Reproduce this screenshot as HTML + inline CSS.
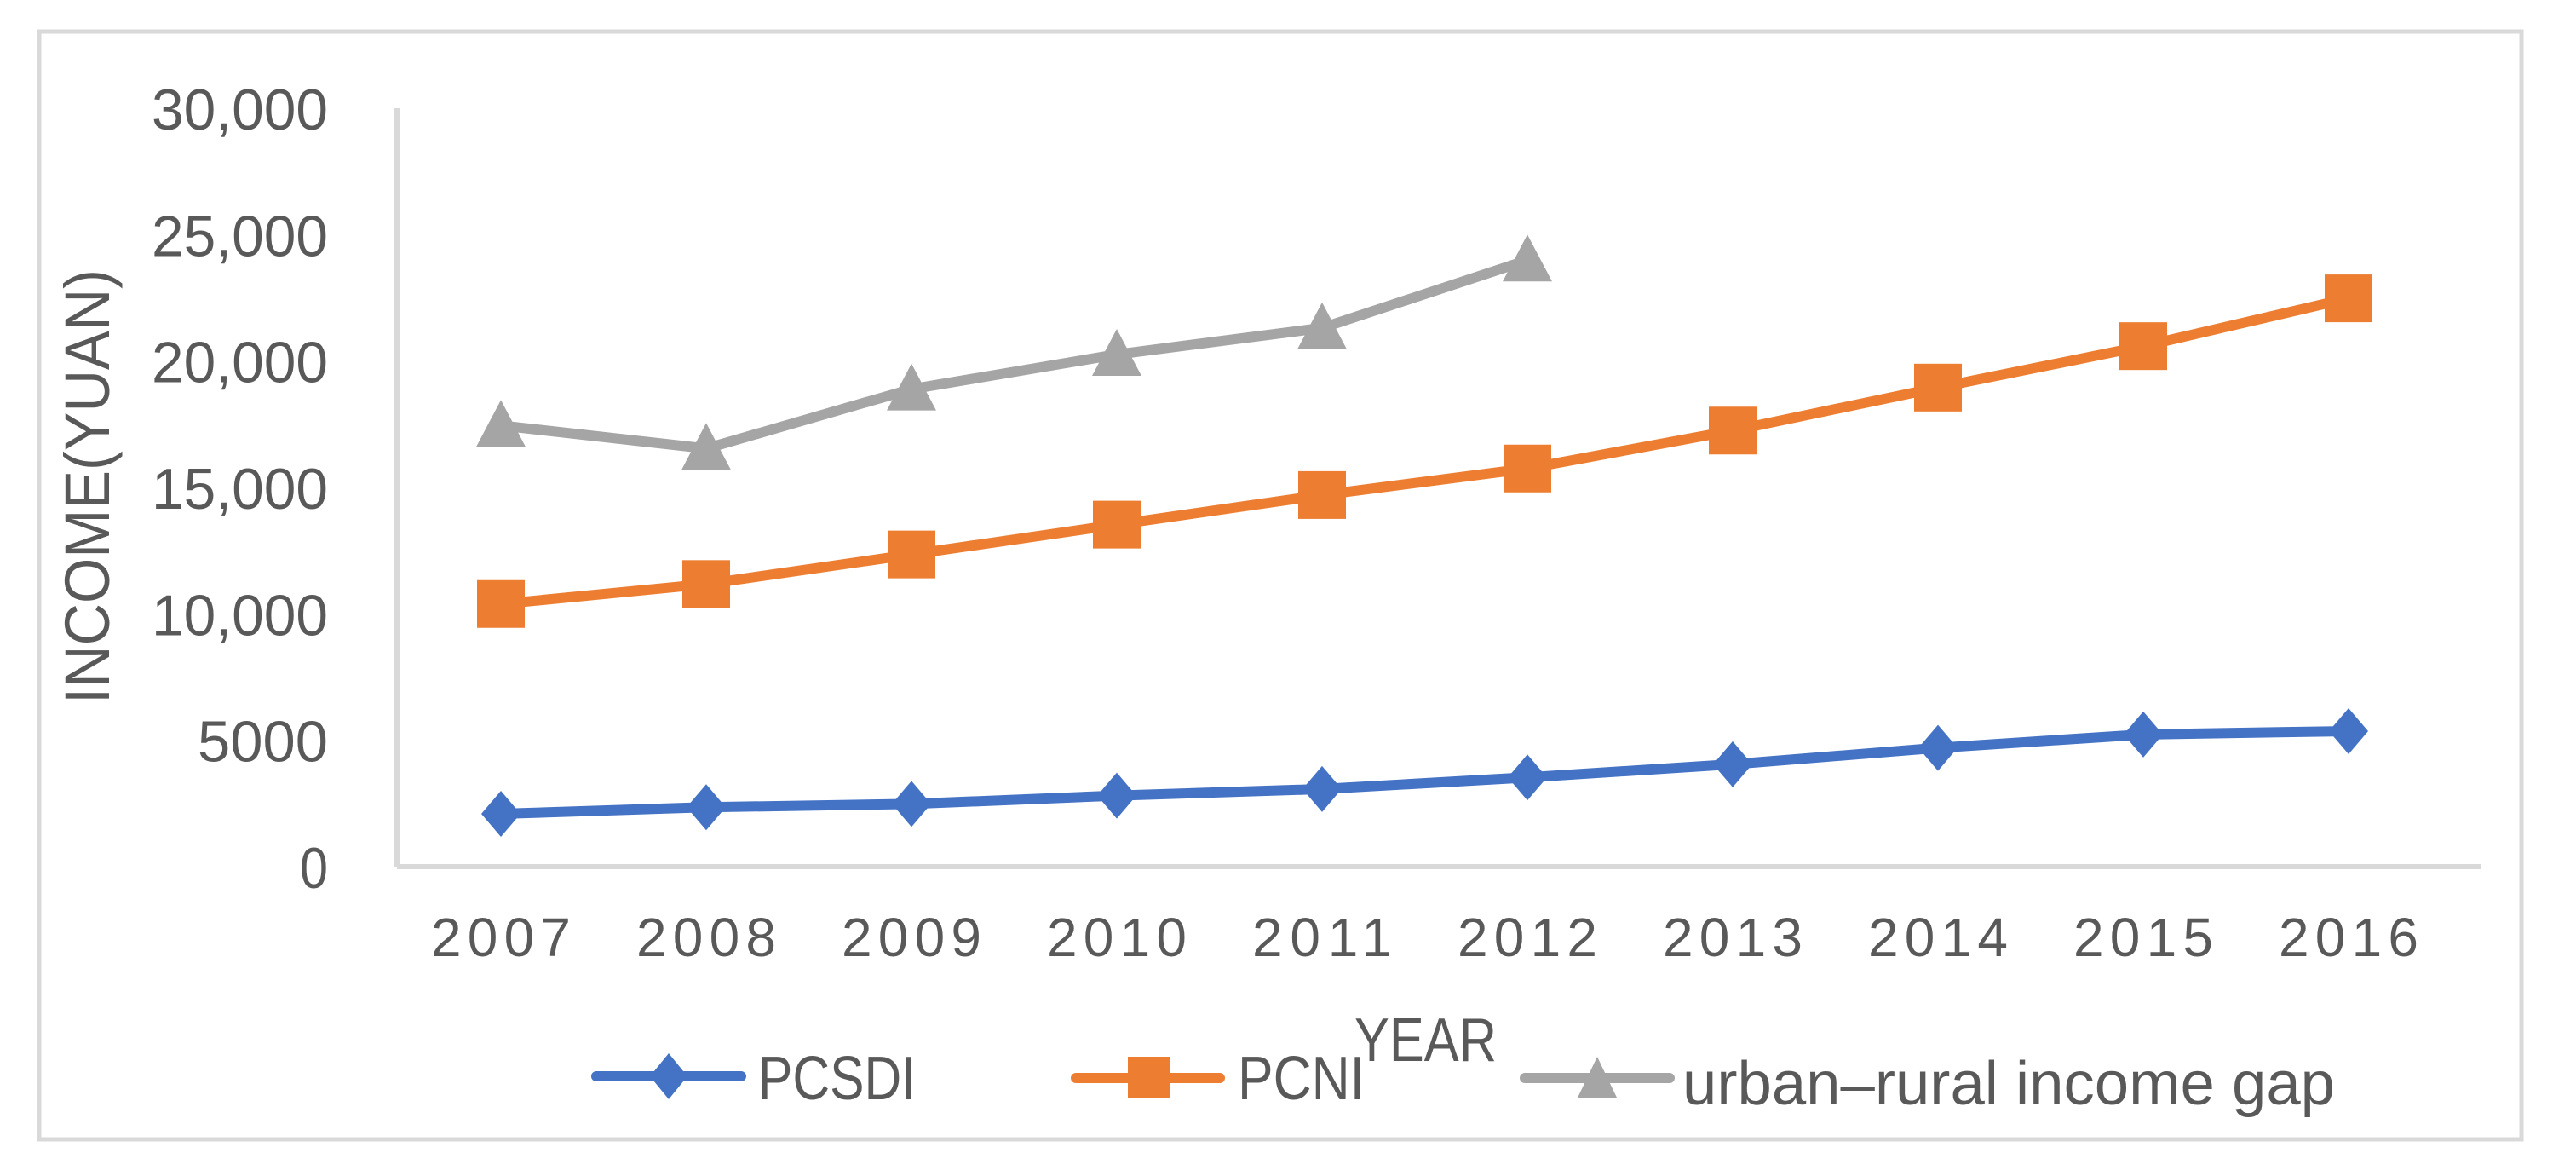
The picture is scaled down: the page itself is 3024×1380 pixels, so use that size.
<!DOCTYPE html>
<html><head><meta charset="utf-8"><style>
html,body{margin:0;padding:0;background:#fff;}
svg{display:block;}
text{font-family:"Liberation Sans","Noto Sans CJK SC",sans-serif;fill:#595959;}
</style></head><body>
<svg id="chart" width="3024" height="1380" viewBox="0 0 3024 1380" xmlns="http://www.w3.org/2000/svg">
<rect x="46" y="37" width="2914" height="1300" fill="#fff" stroke="#d9d9d9" stroke-width="5"/>
<g id="grid"></g>
<g id="axes"></g>
<g id="series"></g>
<text transform="translate(128,571) rotate(-90)" text-anchor="middle" font-size="74" textLength="510" lengthAdjust="spacingAndGlyphs">INCOME(YUAN)</text>
<text x="1590" y="1245" font-size="72" textLength="167" lengthAdjust="spacingAndGlyphs">YEAR</text>
<g>
  <g>
    <line x1="700" y1="1263" x2="870" y2="1263" stroke="#4472C4" stroke-width="12" stroke-linecap="round"/>
    <polygon points="785,1236 807,1263 785,1290 763,1263" fill="#4472C4"/>
    <text x="890" y="1290" font-size="72" textLength="185" lengthAdjust="spacingAndGlyphs">PCSDI</text>
  </g>
  <g>
    <line x1="1263" y1="1265" x2="1432" y2="1265" stroke="#ED7D31" stroke-width="12" stroke-linecap="round"/>
    <rect x="1324" y="1240" width="50" height="48" fill="#ED7D31"/>
    <text x="1453" y="1290" font-size="72" textLength="149" lengthAdjust="spacingAndGlyphs">PCNI</text>
  </g>
  <g>
    <line x1="1790" y1="1265" x2="1960" y2="1265" stroke="#A5A5A5" stroke-width="12" stroke-linecap="round"/>
    <polygon points="1875,1240 1898,1288 1852,1288" fill="#A5A5A5"/>
    <text x="1975" y="1296" font-size="72" textLength="766" lengthAdjust="spacingAndGlyphs">urban–rural income gap</text>
  </g>
</g>
</svg>
<script>
const years = ['2007','2008','2009','2010','2011','2012','2013','2014','2015','2016'];
const pcsdi = [2090,2350,2480,2810,3070,3530,4050,4700,5230,5360];
const pcni = [10390,11180,12350,13530,14700,15750,17250,18950,20590,22480];
const gap = [17450,16540,18890,20260,21310,23990];
const yTicks = [0,5000,10000,15000,20000,25000,30000];
const yTickLabels = ['0','5000','10,000','15,000','20,000','25,000','30,000'];

const NS='http://www.w3.org/2000/svg';
const x0=588, xStep=241, yBase=1017, yTop=127, yMax=30000;
const xPos=i=>x0+i*xStep;
const yPos=v=>yBase-(v/yMax)*(yBase-yTop);
function mk(tag,attrs,parent){const e=document.createElementNS(NS,tag);for(const k in attrs)e.setAttribute(k,attrs[k]);parent.appendChild(e);return e;}
const axes=document.getElementById('axes');
const series=document.getElementById('series');

let ax=mk('line',{x1:466,y1:yTop,x2:466,y2:yBase,stroke:'#d9d9d9','stroke-width':6},axes);


ax=mk('line',{x1:466,y1:yBase,x2:2913,y2:yBase,stroke:'#d9d9d9','stroke-width':6},axes);



const tickW={ '0':33,'5000':153 };
yTicks.forEach((v,i)=>{
  const lab=yTickLabels[i];
  const w=tickW[lab]||207;
  const t=mk('text',{x:385,y:yPos(v)+25,'text-anchor':'end','font-size':68,textLength:w,lengthAdjust:'spacingAndGlyphs'},axes);
  t.textContent=lab;
  
  
});
years.forEach((y,i)=>{
  const t=mk('text',{x:xPos(i),y:1122,'text-anchor':'middle','font-size':64,textLength:164,lengthAdjust:'spacing'},axes);
  t.textContent=y;
  
  
});

function line(vals,color,name){
  const pts=vals.map((v,i)=>xPos(i)+','+yPos(v)).join(' ');
  const p=mk('polyline',{points:pts,fill:'none',stroke:color,'stroke-width':12,'stroke-linejoin':'round'},series);
  
  
}
line(gap,'#A5A5A5','gap');
line(pcni,'#ED7D31','pcni');
line(pcsdi,'#4472C4','pcsdi');

gap.forEach((v,i)=>{
  const cx=xPos(i),cy=yPos(v);
  const m=mk('polygon',{points:`${cx},${cy-30} ${cx+29},${cy+25} ${cx-29},${cy+25}`,fill:'#A5A5A5'},series);
  
  
});
pcni.forEach((v,i)=>{
  const cx=xPos(i),cy=yPos(v);
  const m=mk('rect',{x:cx-28,y:cy-28,width:56,height:56,fill:'#ED7D31'},series);
  
  
});
pcsdi.forEach((v,i)=>{
  const cx=xPos(i),cy=yPos(v);
  const m=mk('polygon',{points:`${cx},${cy-27} ${cx+23},${cy} ${cx},${cy+27} ${cx-23},${cy}`,fill:'#4472C4'},series);
  
  
});
</script>
</body></html>
